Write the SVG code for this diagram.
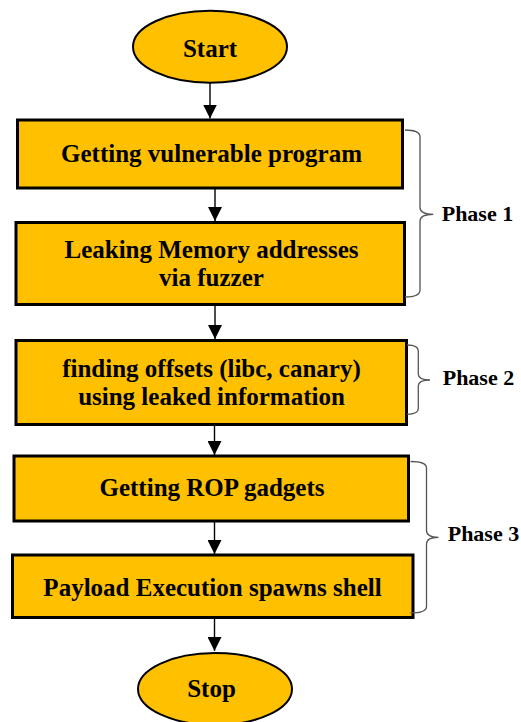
<svg xmlns="http://www.w3.org/2000/svg" width="521" height="722" viewBox="0 0 521 722">
  <style>
    .term { fill: #FFC000; stroke: #000; stroke-width: 2; }
    .step { fill: #FFC000; stroke: #000; stroke-width: 3; }
    .label { font-family: "Liberation Serif", "Times New Roman", serif; font-weight: bold; font-size: 25px; fill: #000; text-anchor: middle; }
    .phase { font-family: "Liberation Serif", "Times New Roman", serif; font-weight: bold; font-size: 22px; fill: #000; }
    .flow { stroke: #000; stroke-width: 1.4; fill: none; marker-end: url(#arrow); }
    .brace { stroke: #555; stroke-width: 1.3; fill: none; }
  </style>
  <defs>
    <marker id="arrow" markerUnits="userSpaceOnUse" markerWidth="14" markerHeight="14" refX="14" refY="7" orient="auto">
      <path d="M0,0 L14,7 L0,14 Z" fill="#000"/>
    </marker>
  </defs>
  <rect width="521" height="722" fill="#fff"/>

  <g id="connectors">
    <line class="flow" x1="210" y1="83" x2="210" y2="118.5"/>
    <line class="flow" x1="215" y1="189" x2="215" y2="221"/>
    <line class="flow" x1="215" y1="305" x2="215" y2="339"/>
    <line class="flow" x1="214.5" y1="425" x2="214.5" y2="455"/>
    <line class="flow" x1="214.5" y1="522" x2="214.5" y2="554"/>
    <line class="flow" x1="214.5" y1="618" x2="214.5" y2="651"/>
  </g>

  <g id="start">
    <ellipse class="term" cx="210" cy="46.7" rx="77" ry="36"/>
    <text class="label" x="210" y="57">Start</text>
  </g>

  <g id="get-program">
    <rect class="step" x="17.5" y="120" width="385" height="68"/>
    <text class="label" x="211.5" y="161.5">Getting vulnerable program</text>
  </g>

  <g id="leak-memory">
    <rect class="step" x="16" y="222.5" width="388.5" height="82"/>
    <text class="label" x="211.5" y="257.5">Leaking Memory addresses</text>
    <text class="label" x="211.5" y="286">via fuzzer</text>
  </g>

  <g id="find-offsets">
    <rect class="step" x="16" y="340.5" width="390.5" height="84"/>
    <text class="label" x="211.5" y="377">finding offsets (libc, canary)</text>
    <text class="label" x="211.5" y="404.5">using leaked information</text>
  </g>

  <g id="rop-gadgets">
    <rect class="step" x="14" y="456" width="394.5" height="65"/>
    <text class="label" x="212" y="496">Getting ROP gadgets</text>
  </g>

  <g id="payload">
    <rect class="step" x="12.5" y="555" width="400.5" height="62.5"/>
    <text class="label" x="212.5" y="595.5">Payload Execution spawns shell</text>
  </g>

  <g id="stop">
    <ellipse class="term" cx="215" cy="689" rx="77" ry="36"/>
    <text class="label" x="211.5" y="697">Stop</text>
  </g>

  <g id="phase-1">
    <path class="brace" d="M405,130 Q420,130 420,137 V207.5 Q420,214.3 433.3,214.3 Q420,214.3 420,221 V290 Q420,297 405,297"/>
    <text class="phase" x="441.7" y="221">Phase 1</text>
  </g>

  <g id="phase-2">
    <path class="brace" d="M407,345 Q418.3,345 418.3,351 V374 Q418.3,380 430,380 Q418.3,380 418.3,386 V408.5 Q418.3,414.3 407,414.3"/>
    <text class="phase" x="442.7" y="384.5">Phase 2</text>
  </g>

  <g id="phase-3">
    <path class="brace" d="M410.5,461.5 Q426.5,461.5 426.5,468 V530.5 Q426.5,537.3 438.5,537.3 Q426.5,537.3 426.5,544 V606.5 Q426.5,613 410.5,613"/>
    <text class="phase" x="447.7" y="540.5">Phase 3</text>
  </g>
</svg>
